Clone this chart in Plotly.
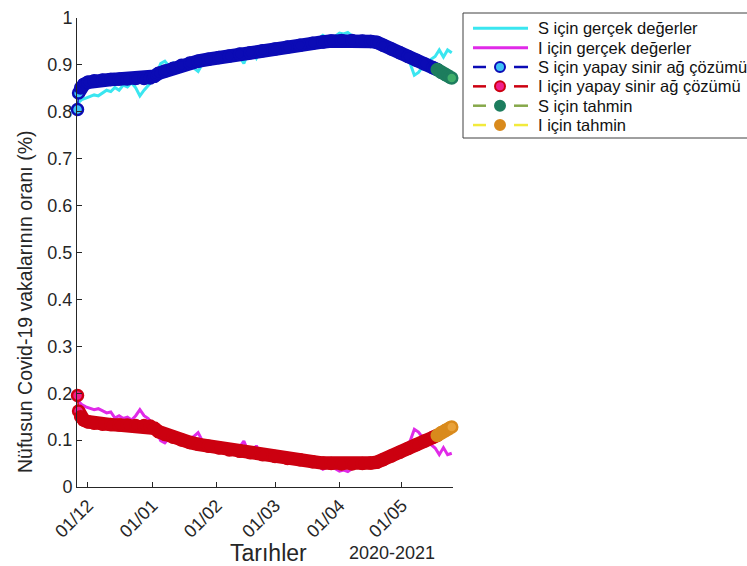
import pandas as pd
import plotly.graph_objects as go

# ---------------- data ----------------
start_date = pd.Timestamp("2020-11-26")

# real observations, every 2 days from 26/11/2020
real_days = list(range(0, 181, 2))
s_real = [0.818, 0.826, 0.829, 0.832, 0.836, 0.834, 0.840, 0.846, 0.843, 0.852,
          0.846, 0.857, 0.853, 0.862, 0.851, 0.834, 0.846, 0.855, 0.866, 0.880,
          0.903, 0.908, 0.897, 0.904, 0.900, 0.896, 0.905, 0.900, 0.893, 0.886,
          0.902, 0.910, 0.914, 0.911, 0.918, 0.915, 0.920, 0.917, 0.923, 0.917,
          0.903, 0.925, 0.927, 0.914, 0.931, 0.928, 0.934, 0.930, 0.936, 0.934,
          0.940, 0.937, 0.942, 0.940, 0.946, 0.943, 0.948, 0.952, 0.956, 0.963,
          0.958, 0.955, 0.962, 0.968, 0.966, 0.969, 0.962, 0.958, 0.960, 0.956,
          0.958, 0.953, 0.949, 0.944, 0.938, 0.935, 0.929, 0.927, 0.918, 0.914,
          0.903, 0.878, 0.884, 0.896, 0.902, 0.912, 0.918, 0.932, 0.917, 0.932,
          0.926]
i_real = [0.184, 0.176, 0.171, 0.168, 0.165, 0.167, 0.163, 0.158, 0.160, 0.147,
          0.152, 0.146, 0.149, 0.143, 0.152, 0.165, 0.152, 0.146, 0.135, 0.118,
          0.099, 0.094, 0.104, 0.097, 0.101, 0.106, 0.097, 0.102, 0.108, 0.116,
          0.099, 0.092, 0.088, 0.090, 0.084, 0.086, 0.081, 0.084, 0.078, 0.085,
          0.098, 0.076, 0.074, 0.088, 0.070, 0.073, 0.067, 0.070, 0.064, 0.066,
          0.060, 0.063, 0.058, 0.060, 0.055, 0.057, 0.052, 0.048, 0.044, 0.038,
          0.042, 0.046, 0.039, 0.034, 0.036, 0.033, 0.039, 0.043, 0.041, 0.045,
          0.043, 0.048, 0.052, 0.057, 0.062, 0.066, 0.072, 0.074, 0.083, 0.087,
          0.098, 0.123, 0.117, 0.105, 0.098, 0.089, 0.083, 0.069, 0.084, 0.069,
          0.072]

# neural-network solution
nn_days = [0, 0.5, 1.5, 3, 5, 8, 12, 16, 20, 24, 28, 32, 35, 37, 39, 42, 46, 50,
           54, 58, 63, 68, 73, 78, 83, 89, 95, 101, 107, 113, 118, 122, 127, 132,
           137, 141, 144, 147, 151, 155, 159, 163, 167, 171, 173]
s_nn = [0.805, 0.840, 0.851, 0.858, 0.863, 0.866, 0.868, 0.869, 0.870, 0.870,
        0.871, 0.871, 0.872, 0.876, 0.882, 0.887, 0.893, 0.899, 0.904, 0.908,
        0.912, 0.916, 0.919, 0.923, 0.926, 0.930, 0.934, 0.938, 0.942, 0.946,
        0.949, 0.951, 0.952, 0.952, 0.951, 0.950, 0.948, 0.942, 0.934, 0.926,
        0.918, 0.910, 0.902, 0.894, 0.890]
i_nn = [0.195, 0.162, 0.150, 0.143, 0.139, 0.136, 0.134, 0.133, 0.132, 0.132,
        0.131, 0.131, 0.130, 0.125, 0.118, 0.112, 0.106, 0.100, 0.095, 0.091,
        0.087, 0.083, 0.079, 0.076, 0.073, 0.069, 0.065, 0.061, 0.058, 0.054,
        0.051, 0.050, 0.049, 0.049, 0.050, 0.051, 0.053, 0.058, 0.066, 0.074,
        0.082, 0.090, 0.098, 0.106, 0.110]

# forecast
fc_days = [173, 175, 177, 179, 180]
s_fc = [0.890, 0.884, 0.879, 0.874, 0.872]
i_fc = [0.110, 0.116, 0.121, 0.126, 0.128]

tick_dates = ["2020-12-01", "2021-01-01", "2021-02-01", "2021-03-01", "2021-04-01", "2021-05-01"]
tick_labels = ["01/12", "01/01", "01/02", "01/03", "01/04", "01/05"]

legend_names = ["S için gerçek değerler", "I için gerçek değerler",
                "S için yapay sinir ağ çözümü", "I için yapay sinir ağ çözümü",
                "S için tahmin", "I için tahmin"]

# ---------------- styling ----------------
FONT = "Liberation Sans, Arial, Helvetica, sans-serif"
AX = "#262626"
CYAN = "#3ae6f0"
MAGENTA = "#e02ae8"
BLUE = "#0b0bb5"
LIGHTBLUE = "#3fc3f5"
RED = "#cc0010"
PINK = "#f0208c"
GREEN_EDGE = "#1d7d5e"
GREEN_FACE = "#3fae6a"
GREEN_LINE = "#86a84a"
ORANGE_EDGE = "#d98a1c"
ORANGE_FACE = "#e9a23a"
YELLOW_LINE = "#f2ea3c"

MS = 11
MLW = 2.5
BAND = MS + MLW

L, R, T, B = 77, 294, 18, 79
W, H = 747, 566
PW, PH = W - L - R, H - T - B


def px(xp):
    return (xp - L) / PW


def py(yp):
    return (H - B - yp) / PH


def to_dates(days):
    return [start_date + pd.Timedelta(days=d) for d in days]


fig = go.Figure()

# real values
fig.add_trace(go.Scatter(x=to_dates(real_days), y=s_real, mode="lines",
                         line=dict(color=CYAN, width=3), name=legend_names[0],
                         showlegend=False))
fig.add_trace(go.Scatter(x=to_dates(real_days), y=i_real, mode="lines",
                         line=dict(color=MAGENTA, width=3), name=legend_names[1],
                         showlegend=False))


def add_band(days, vals, edge, faces, thick_from, name):
    xd = to_dates(days)
    fig.add_trace(go.Scatter(x=xd[thick_from:], y=vals[thick_from:], mode="lines",
                             line=dict(color=edge, width=BAND), showlegend=False,
                             hoverinfo="skip", name=name))
    fig.add_trace(go.Scatter(x=xd, y=vals, mode="lines+markers",
                             line=dict(color=edge, width=1.5),
                             marker=dict(size=MS, color=faces,
                                         line=dict(color=edge, width=MLW)),
                             cliponaxis=False, showlegend=False, name=name))


n_nn = len(nn_days)
add_band(nn_days, s_nn, BLUE, [LIGHTBLUE if k < 2 else BLUE for k in range(n_nn)], 1, legend_names[2])
add_band(nn_days, i_nn, RED, [PINK if k < 2 else RED for k in range(n_nn)], 1, legend_names[3])
n_fc = len(fc_days)
add_band(fc_days, s_fc, GREEN_EDGE,
         [GREEN_FACE if k == n_fc - 1 else GREEN_EDGE for k in range(n_fc)], 0, legend_names[4])
add_band(fc_days, i_fc, ORANGE_EDGE,
         [ORANGE_FACE if k == n_fc - 1 else ORANGE_EDGE for k in range(n_fc)], 0, legend_names[5])

# ---------------- legend box (drawn in figure pixels) ----------------
legend_line_colors = [CYAN, MAGENTA, BLUE, RED, GREEN_LINE, YELLOW_LINE]
legend_marker_face = [None, None, LIGHTBLUE, PINK, GREEN_EDGE, ORANGE_EDGE]
legend_marker_edge = [None, None, BLUE, RED, GREEN_EDGE, ORANGE_EDGE]

shapes = [dict(type="rect", xref="paper", yref="paper",
               x0=px(463), x1=px(775), y0=py(13), y1=py(138),
               line=dict(color="#404040", width=1), fillcolor="white", layer="above")]
annotations = []
for k, name in enumerate(legend_names):
    yr = 28.3 + k * 19.35
    if legend_marker_face[k] is None:
        shapes.append(dict(type="line", xref="paper", yref="paper",
                           x0=px(473), x1=px(528), y0=py(yr), y1=py(yr),
                           line=dict(color=legend_line_colors[k], width=3)))
    else:
        for a, b in ((473, 486), (514, 528)):
            shapes.append(dict(type="line", xref="paper", yref="paper",
                               x0=px(a), x1=px(b), y0=py(yr), y1=py(yr),
                               line=dict(color=legend_line_colors[k], width=2.5)))
        shapes.append(dict(type="circle", xref="paper", yref="paper",
                           xsizemode="pixel", ysizemode="pixel",
                           xanchor=px(500), yanchor=py(yr),
                           x0=-5, x1=5, y0=-5, y1=5,
                           fillcolor=legend_marker_face[k],
                           line=dict(color=legend_marker_edge[k], width=2)))
    annotations.append(dict(text=name, xref="paper", yref="paper",
                            x=px(536), y=py(yr), xanchor="left", yanchor="middle",
                            showarrow=False,
                            font=dict(size=16.5, color="#111111", family=FONT)))

annotations += [
    dict(text="Tarıhler", xref="paper", yref="paper", x=px(268), y=py(553),
         xanchor="center", yanchor="middle", showarrow=False,
         font=dict(size=23, color=AX, family=FONT)),
    dict(text="2020-2021", xref="paper", yref="paper", x=px(392), y=py(553),
         xanchor="center", yanchor="middle", showarrow=False,
         font=dict(size=18, color=AX, family=FONT)),
    dict(text="Nüfusun Covid-19 vakalarının oranı (%)", xref="paper", yref="paper",
         x=px(25), y=py(302), textangle=-90,
         xanchor="center", yanchor="middle", showarrow=False,
         font=dict(size=19.5, color=AX, family=FONT)),
]

fig.update_layout(
    width=W, height=H,
    margin=dict(l=L, r=R, t=T, b=B, autoexpand=False),
    paper_bgcolor="white", plot_bgcolor="white",
    font=dict(family=FONT, color=AX),
    showlegend=False,
    xaxis=dict(type="date",
               range=[start_date - pd.Timedelta(hours=6), start_date + pd.Timedelta(days=180.6)],
               tickvals=tick_dates, ticktext=tick_labels, tickangle=-45,
               ticks="inside", ticklen=5, tickcolor=AX,
               showline=True, linecolor=AX, linewidth=1,
               showgrid=False, zeroline=False,
               tickfont=dict(size=18, color=AX, family=FONT)),
    yaxis=dict(range=[0, 1], tick0=0, dtick=0.1,
               ticks="inside", ticklen=5, tickcolor=AX,
               showline=True, linecolor=AX, linewidth=1,
               showgrid=False, zeroline=False,
               tickfont=dict(size=18, color=AX, family=FONT)),
    shapes=shapes,
    annotations=annotations,
)

fig.write_html("out.html", config={"displayModeBar": False},
               post_script="document.body.style.margin='0';document.body.style.overflow='hidden';")
